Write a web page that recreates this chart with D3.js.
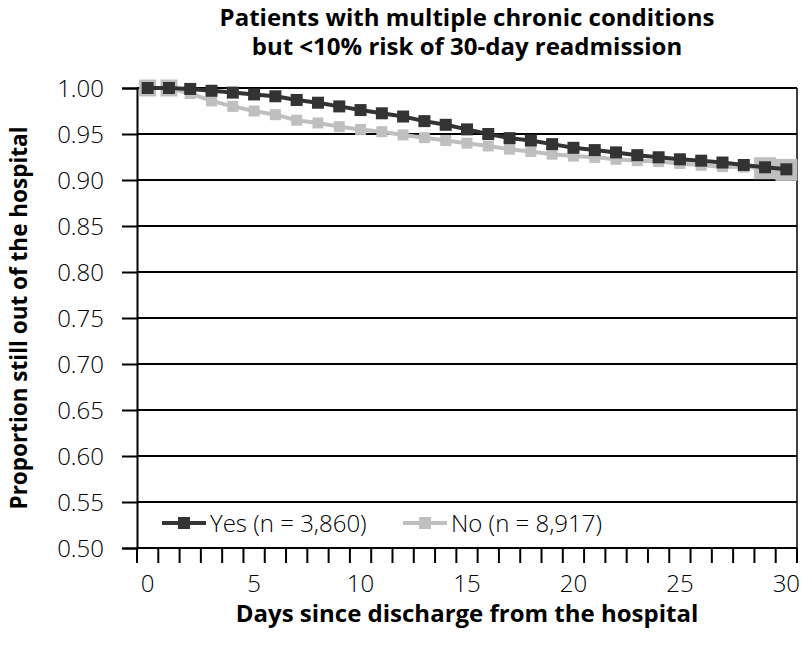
<!DOCTYPE html>
<html>
<head>
<meta charset="utf-8">
<script src="https://cdn.jsdelivr.net/npm/d3@7"></script>
<style>
  body { margin: 0; background: #fff; }
  text { fill: #000; }
  .lbl { font-family: "Open Sans", sans-serif; font-size: 24px; font-weight: 300; }
  .ttl { font-family: "Open Sans", sans-serif; font-weight: bold; font-size: 24px; }
</style>
</head>
<body>
<div id="chart"></div>
<script>
var days = d3.range(0, 31);
var yesValues = [1.000, 1.000, 0.999, 0.997, 0.995, 0.993, 0.991, 0.987, 0.984, 0.980,
                 0.976, 0.9725, 0.969, 0.964, 0.960, 0.955, 0.950, 0.9455, 0.943, 0.939,
                 0.935, 0.9325, 0.930, 0.927, 0.9247, 0.9225, 0.921, 0.919, 0.9163, 0.9138, 0.9116];
var noValues = [1.000, 1.000, 0.994, 0.986, 0.980, 0.975, 0.971, 0.965, 0.962, 0.958,
                0.955, 0.9525, 0.949, 0.946, 0.943, 0.940, 0.937, 0.9335, 0.931, 0.928,
                0.926, 0.9246, 0.9225, 0.921, 0.920, 0.918, 0.916, 0.9145, 0.914, 0.9128, 0.911];
var yTicks = [0.50, 0.55, 0.60, 0.65, 0.70, 0.75, 0.80, 0.85, 0.90, 0.95, 1.00];
var xTickLabels = [0, 5, 10, 15, 20, 25, 30];
var seriesNames = ['Yes (n = 3,860)', 'No (n = 8,917)'];

var width = 802, height = 652;
var plotLeft = 137, plotRight = 797, plotTop = 88, plotBottom = 548;

var svg = d3.select('#chart').append('svg')
            .attr('width', width)
            .attr('height', height);

var x = d3.scaleBand().domain(days).range([plotLeft, plotRight]);
var y = d3.scaleLinear().domain([0.5, 1.0]).range([plotBottom, plotTop]);

// gridlines
svg.append('g').selectAll('line')
   .data(yTicks.slice(1))
   .enter().append('line')
   .attr('x1', plotLeft).attr('x2', plotRight)
   .attr('y1', function(d) { return y(d); })
   .attr('y2', function(d) { return y(d); })
   .style('stroke', '#000').style('stroke-width', 2);

// right border
svg.append('line')
   .attr('x1', plotRight).attr('x2', plotRight)
   .attr('y1', plotTop).attr('y2', plotBottom)
   .style('stroke', '#000').style('stroke-width', 1.5);

// y axis
var yAxis = d3.axisLeft(y).tickValues(yTicks).tickSize(15).tickPadding(18)
              .tickFormat(d3.format('.2f'));
var gy = svg.append('g').attr('transform', 'translate(' + plotLeft + ',0)').call(yAxis);
gy.attr('font-size', null).attr('font-family', null);
gy.select('.domain').style('stroke-width', 2);
gy.selectAll('.tick line').style('stroke-width', 2);
gy.selectAll('.tick text').attr('class', 'lbl').attr('dy', '0.36em');

// x axis: ticks between categories, labels at centres
var boundaries = d3.range(0, days.length + 1);
var xb = d3.scaleLinear().domain([0, days.length]).range([plotLeft, plotRight]);
var gx = svg.append('g');
gx.append('line')
  .attr('x1', plotLeft).attr('x2', plotRight)
  .attr('y1', plotBottom).attr('y2', plotBottom)
  .style('stroke', '#000').style('stroke-width', 2);
gx.selectAll('line.tk')
  .data(boundaries)
  .enter().append('line')
  .attr('class', 'tk')
  .attr('x1', function(d) { return xb(d); })
  .attr('x2', function(d) { return xb(d); })
  .attr('y1', plotBottom).attr('y2', plotBottom + 15)
  .style('stroke', '#000').style('stroke-width', 2);
gx.selectAll('text')
  .data(xTickLabels)
  .enter().append('text')
  .attr('class', 'lbl')
  .attr('x', function(d) { return x(d) + x.bandwidth() / 2; })
  .attr('y', plotBottom + 44)
  .attr('text-anchor', 'middle')
  .text(function(d) { return d; });

// series
var line = d3.line()
  .x(function(d, i) { return x(days[i]) + x.bandwidth() / 2; })
  .y(function(d) { return y(d); });

function drawSeries(values, color, size, bigSize, bigIdx) {
  svg.append('path')
     .datum(values)
     .attr('d', line)
     .style('fill', 'none')
     .style('stroke', color)
     .style('stroke-width', 4);
  svg.append('g').selectAll('rect')
     .data(values)
     .enter().append('rect')
     .attr('width', function(d, i) { return bigIdx.indexOf(i) >= 0 ? bigSize : size; })
     .attr('height', function(d, i) { return bigIdx.indexOf(i) >= 0 ? bigSize : size; })
     .attr('x', function(d, i) {
       var s = bigIdx.indexOf(i) >= 0 ? bigSize : size;
       return x(days[i]) + x.bandwidth() / 2 - s / 2;
     })
     .attr('y', function(d, i) {
       var s = bigIdx.indexOf(i) >= 0 ? bigSize : size;
       return y(d) - s / 2;
     })
     .style('fill', color);
}

drawSeries(noValues, '#bfbfbf', 11, 17, [0, 1]);
svg.append('g').selectAll('rect')
   .data(noValues.slice(29))
   .enter().append('rect')
   .attr('x', function(d, i) { return x(days[29 + i]) + x.bandwidth() / 2 - 11; })
   .attr('y', function(d) { return y(d) - 11; })
   .attr('width', 22).attr('height', 22)
   .style('fill', '#bfbfbf');
drawSeries(yesValues, '#333333', 12, 12, []);

// legend
var legend = svg.append('g');
var legendItems = [
  { name: seriesNames[0], color: '#333333', x0: 162 },
  { name: seriesNames[1], color: '#bfbfbf', x0: 403 }
];
legendItems.forEach(function(it) {
  legend.append('line')
        .attr('x1', it.x0).attr('x2', it.x0 + 44)
        .attr('y1', 523).attr('y2', 523)
        .style('stroke', it.color).style('stroke-width', 4);
  legend.append('rect')
        .attr('x', it.x0 + 16).attr('y', 517)
        .attr('width', 12).attr('height', 12)
        .style('fill', it.color);
  legend.append('text')
        .attr('class', 'lbl')
        .attr('x', it.x0 + 48).attr('y', 532)
        .text(it.name);
});

// titles
var cx = (plotLeft + plotRight) / 2;
var title = svg.append('text').attr('class', 'ttl').attr('text-anchor', 'middle');
title.append('tspan').attr('x', cx).attr('y', 26).text('Patients with multiple chronic conditions');
title.append('tspan').attr('x', cx).attr('y', 55).text('but <10% risk of 30-day readmission');
svg.append('text').attr('class', 'ttl').attr('x', cx).attr('y', 622)
   .attr('text-anchor', 'middle').text('Days since discharge from the hospital');
svg.append('text').attr('class', 'ttl').style('font-size', '22.5px')
   .attr('transform', 'translate(27,' + ((plotTop + plotBottom) / 2) + ') rotate(-90)')
   .attr('text-anchor', 'middle').text('Proportion still out of the hospital');
</script>
</body>
</html>
